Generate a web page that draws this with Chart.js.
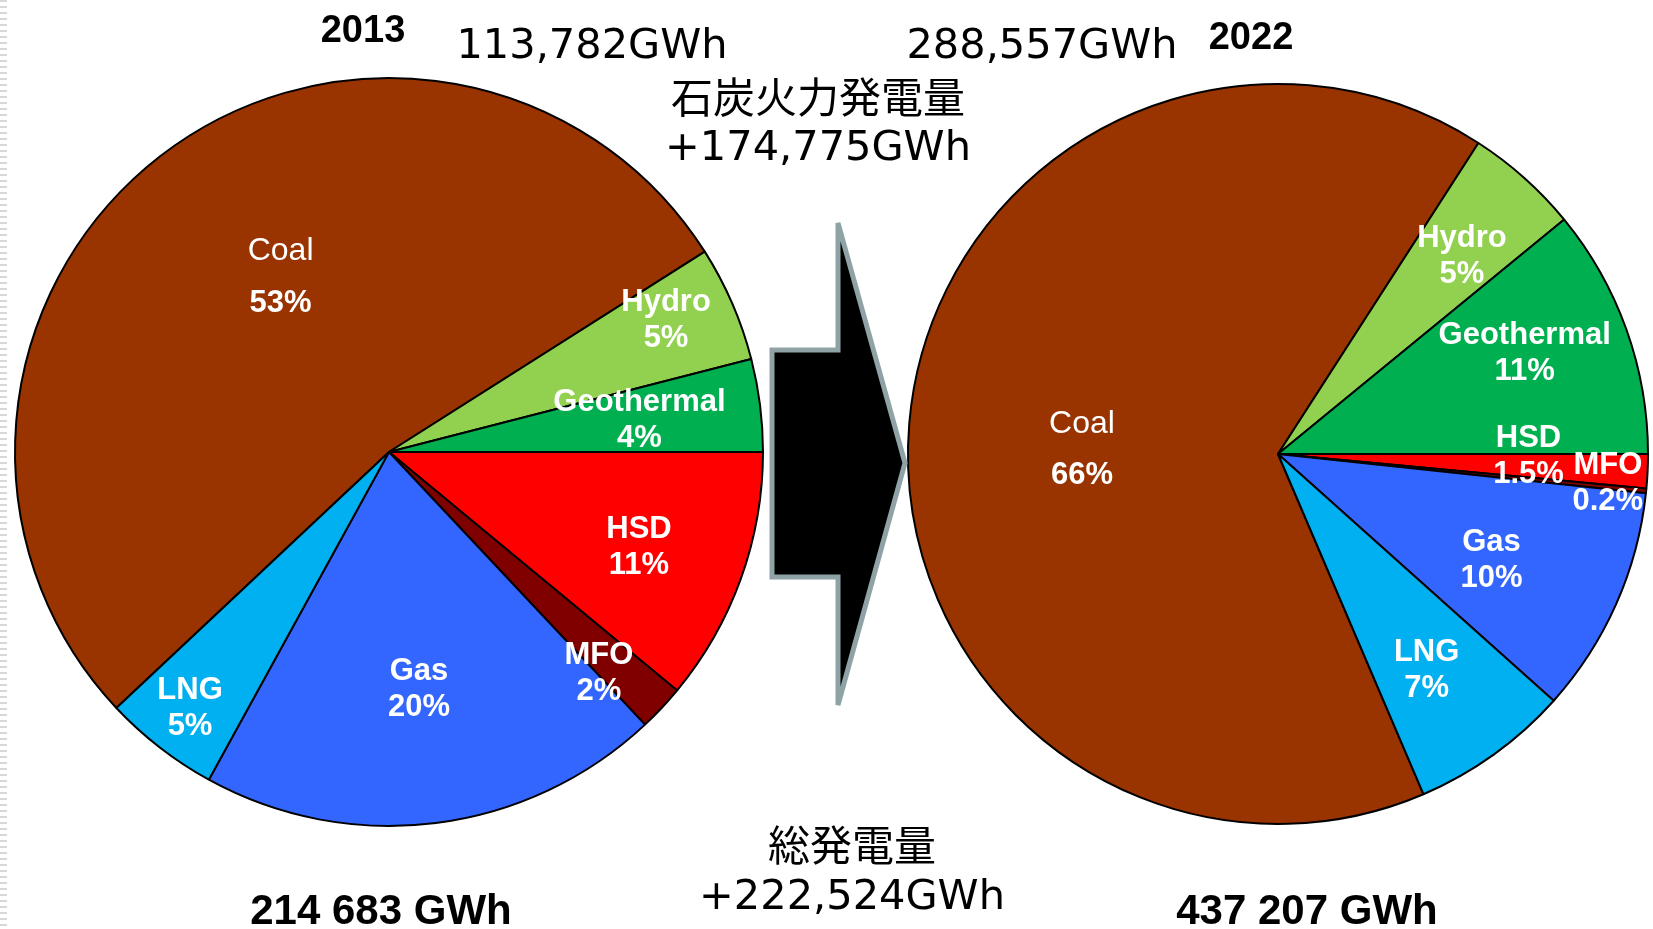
<!DOCTYPE html>
<html>
<head>
<meta charset="utf-8">
<script src="https://cdn.jsdelivr.net/npm/chart.js@4.4.1/dist/chart.umd.min.js"></script>
<style>
    html, body {
        margin: 0;
        padding: 0;
        background: #ffffff;
        width: 1653px;
        height: 929px;
        overflow: hidden;
    }
    .stage {
        position: relative;
        width: 1653px;
        height: 929px;
    }
    .pie {
        position: absolute;
        width: 780px;
        height: 780px;
    }
    .txt {
        position: absolute;
        transform: translate(-50%, -50%);
        white-space: nowrap;
        line-height: 1;
        color: #000;
    }
    .year, .total {
        font-family: 'Liberation Sans', Arial, sans-serif;
        font-weight: bold;
    }
    .jp {
        font-family: 'Noto Sans CJK JP', sans-serif;
        font-size: 42px;
    }
    .num {
        font-family: 'DejaVu Sans', 'Noto Sans CJK JP', sans-serif;
        font-size: 41.5px;
    }
    .edge {
        position: absolute;
        left: 0;
        top: 0;
        width: 7px;
        height: 929px;
        background: repeating-linear-gradient(to bottom, #d8d8d8 0 2px, #ffffff 2px 6px);
    }
</style>
</head>
<body>
<div class="stage">
    <div class="edge"></div>
    <canvas id="pie-2013" class="pie" width="780" height="780" style="left:-1px; top:62px;"></canvas>
    <canvas id="pie-2022" class="pie" width="780" height="780" style="left:888px; top:64px;"></canvas>

    <svg style="position:absolute; left:0; top:0;" width="1653" height="929">
        <polygon points="772,350 838,350 838,223 905,463 838,705 838,577 772,577"
                 fill="#000000" stroke="#8fa3a6" stroke-width="5" stroke-linejoin="miter"/>
    </svg>

    <div class="txt year" style="left:363px; top:29px; font-size:38px;">2013</div>
    <div class="txt year" style="left:1251px; top:36px; font-size:38px;">2022</div>
    <div class="txt num" style="left:592px; top:44px;">113,782GWh</div>
    <div class="txt num" style="left:1042px; top:44px;">288,557GWh</div>
    <div class="txt jp" style="left:818px; top:95px;">石炭火力発電量</div>
    <div class="txt num" style="left:818px; top:146px;">+174,775GWh</div>
    <div class="txt jp" style="left:852px; top:843px;">総発電量</div>
    <div class="txt num" style="left:852px; top:895px;">+222,524GWh</div>
    <div class="txt total" style="left:381px; top:910px; font-size:42px;">214 683 GWh</div>
    <div class="txt total" style="left:1307px; top:910px; font-size:42px;">437 207 GWh</div>
</div>

<script>
// generation mix, percent of total
const categories = ['Coal', 'Hydro', 'Geothermal', 'HSD', 'MFO', 'Gas', 'LNG'];
const share2013 = [53, 5, 4, 11, 2, 20, 5];
const share2022 = [66, 5, 11, 1.5, 0.2, 10, 7];
const pctText2013 = ['53%', '5%', '4%', '11%', '2%', '20%', '5%'];
const pctText2022 = ['66%', '5%', '11%', '1.5%', '0.2%', '10%', '7%'];

const sliceColors = ['#993300', '#92D050', '#00B050', '#FF0000', '#800000', '#3366FF', '#00B0F0'];

// label placement: [fraction of radius, angle nudge in degrees]
const place2013 = [[0.55, 6], [0.82, -2], [0.675, 0], [0.715, 1], [0.815, 3.3], [0.64, 0], [0.868, 0]];
const place2022 = [[0.53, -3.6], [0.73, 1.2], [0.72, -2.5], [0.677, -2.2], [0.895, -0.6], [0.645, 2.6], [0.71, 1.2]];

// start HSD at 3 o'clock, like the original
function rotationFor(values) {
    const total = values.reduce((a, b) => a + b, 0);
    const before = values[0] + values[1] + values[2];
    return 90 - 360 * before / total;
}

const sliceLabels = {
    id: 'sliceLabels',
    afterDatasetsDraw(chart, args, opts) {
        const ctx = chart.ctx;
        const arcs = chart.getDatasetMeta(0).data;
        ctx.save();
        ctx.fillStyle = '#ffffff';
        ctx.textAlign = 'center';
        ctx.textBaseline = 'middle';
        arcs.forEach((arc, i) => {
            const p = arc.getProps(['x', 'y', 'startAngle', 'endAngle', 'outerRadius'], true);
            const [frac, nudge] = opts.place[i];
            const mid = (p.startAngle + p.endAngle) / 2 + nudge * Math.PI / 180;
            const cx = p.x + Math.cos(mid) * p.outerRadius * frac;
            const cy = p.y + Math.sin(mid) * p.outerRadius * frac;
            const isCoal = categories[i] === 'Coal';
            const gap = isCoal ? 26 : 18;
            ctx.font = (isCoal ? 'normal 32px' : 'bold 31px') + " 'Liberation Sans', Arial, sans-serif";
            ctx.fillText(categories[i], cx, cy - gap);
            ctx.font = "bold 31px 'Liberation Sans', Arial, sans-serif";
            ctx.fillText(opts.pct[i], cx, cy + gap);
        });
        ctx.restore();
    }
};

function renderPie(canvasId, values, pct, place, radius) {
    const ctx = document.getElementById(canvasId).getContext('2d');
    return new Chart(ctx, {
        type: 'pie',
        data: {
            labels: categories,
            datasets: [{
                data: values,
                backgroundColor: sliceColors,
                borderColor: '#000000',
                borderWidth: 2
            }]
        },
        options: {
            responsive: false,
            animation: false,
            rotation: rotationFor(values),
            radius: radius,
            layout: {padding: 0},
            events: [],
            plugins: {
                legend: {display: false},
                tooltip: {enabled: false},
                sliceLabels: {pct: pct, place: place}
            }
        },
        plugins: [sliceLabels]
    });
}

renderPie('pie-2013', share2013, pctText2013, place2013, 374);
renderPie('pie-2022', share2022, pctText2022, place2022, 370);
</script>
</body>
</html>
